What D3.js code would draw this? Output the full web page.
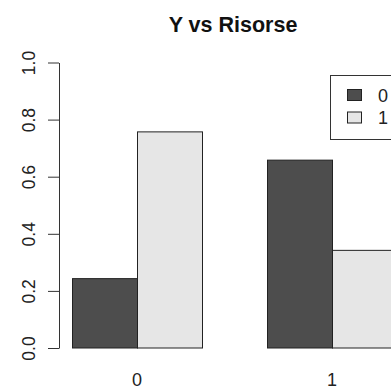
<!DOCTYPE html>
<html>
<head>
<meta charset="utf-8">
<script src="https://cdn.jsdelivr.net/npm/d3@7"></script>
<style>
  body { margin: 0; background: #fff; }
  svg { display: block; font-family: "Liberation Sans", Arial, sans-serif; }
</style>
</head>
<body>
<div id="chart"></div>
<script>
// Y (rows = series) vs Risorse (groups)
const groups = ["0", "1"];
const series = ["0", "1"];
const valuesBySeries = [
  [0.243, 0.658],   // Y = 0
  [0.757, 0.342]    // Y = 1
];
const yTicks = [0, 0.2, 0.4, 0.6, 0.8, 1.0];
const colors = ["#4d4d4d", "#e6e6e6"];

const width = 391, height = 392;

const svg = d3.select("#chart")
  .append("svg")
  .attr("width", width)
  .attr("height", height);

const x0 = d3.scaleBand()
  .domain(groups)
  .range([72, 397])
  .paddingInner(1 / 3);

const x1 = d3.scaleBand()
  .domain(series)
  .range([0, x0.bandwidth()]);

const y = d3.scaleLinear()
  .domain([0, 1])
  .range([348, 62.5]);

// flatten to bar records
const bars = [];
groups.forEach((g, gi) => {
  series.forEach((s, si) => {
    bars.push({ group: g, series: s, si: si, value: valuesBySeries[si][gi] });
  });
});

svg.selectAll(".bar")
  .data(bars)
  .enter()
  .append("rect")
  .attr("class", "bar")
  .attr("x", d => x0(d.group) + x1(d.series) + 0.5)
  .attr("y", d => y(d.value))
  .attr("width", x1.bandwidth())
  .attr("height", d => y(0) - y(d.value))
  .attr("fill", d => colors[d.si])
  .attr("stroke", "#222")
  .attr("stroke-width", 1);

// group names under bars
svg.selectAll(".gname")
  .data(groups)
  .enter()
  .append("text")
  .attr("x", d => x0(d) + x0.bandwidth() / 2)
  .attr("y", 386)
  .attr("text-anchor", "middle")
  .attr("font-size", "18px")
  .attr("fill", "#222")
  .text(d => d);

// y axis, R style
const yAxis = svg.append("g")
  .attr("transform", "translate(59,0)")
  .call(d3.axisLeft(y).tickValues(yTicks).tickSize(11).tickSizeOuter(0).tickFormat(d3.format(".1f")));

yAxis.select(".domain").attr("stroke", "#333");
yAxis.selectAll(".tick line").attr("stroke", "#333");
yAxis.selectAll(".tick text")
  .attr("x", null)
  .attr("dy", null)
  .attr("transform", "translate(-24,0) rotate(-90)")
  .attr("text-anchor", "middle")
  .attr("font-size", "17.5px")
  .attr("font-family", "Liberation Sans, Arial, sans-serif")
  .attr("fill", "#222");

// title
svg.append("text")
  .attr("x", 233)
  .attr("y", 32)
  .attr("text-anchor", "middle")
  .attr("font-size", "21.5px")
  .attr("font-weight", "bold")
  .attr("fill", "#111")
  .text("Y vs Risorse");

// legend
const legend = svg.append("g").attr("transform", "translate(330,75)");
legend.append("rect")
  .attr("x", 0.5)
  .attr("y", 0.5)
  .attr("width", 80)
  .attr("height", 64)
  .attr("fill", "#fff")
  .attr("stroke", "#333");

const items = legend.selectAll(".item")
  .data(series)
  .enter()
  .append("g")
  .attr("transform", (d, i) => `translate(0,${14 + i * 22.5})`);

items.append("rect")
  .attr("x", 17.5)
  .attr("y", 0.5)
  .attr("width", 14)
  .attr("height", 11)
  .attr("fill", (d, i) => colors[i])
  .attr("stroke", "#222");

items.append("text")
  .attr("x", 48)
  .attr("y", 12.5)
  .attr("font-size", "18px")
  .attr("fill", "#222")
  .text(d => d);
</script>
</body>
</html>
